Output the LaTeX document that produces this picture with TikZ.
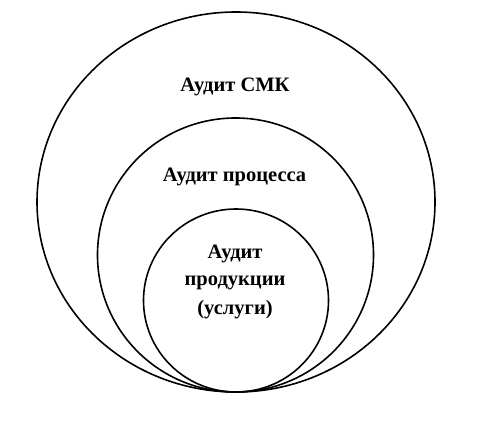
\documentclass[tikz,border=0pt]{standalone}
\usepackage{fontspec}
\setmainfont{Liberation Serif}
\begin{document}
\begin{tikzpicture}[x=1pt,y=1pt,
  ring/.style={draw=black,line width=1.6pt},
  lbl/.style={font=\fontsize{20.5}{24}\selectfont\bfseries,anchor=base,inner sep=0pt}]
\useasboundingbox[fill=white] (0,0) rectangle (486,420);
\draw[ring] (236,218) ellipse [x radius=199, y radius=190];
\draw[ring] (235.5,165) ellipse [x radius=138, y radius=137];
\draw[ring] (236,119.5) ellipse [x radius=92.5, y radius=91.5];
\node[lbl] (smk) at (235,328.5) {Аудит СМК};
\node[lbl] (proc) at (234.5,238) {Аудит процесса};
\node[lbl] (prod1) at (235,161.5) {Аудит};
\node[lbl] (prod2) at (235,134.5) {продукции};
\node[lbl] (prod3) at (235,106) {(услуги)};
\end{tikzpicture}
\end{document}
